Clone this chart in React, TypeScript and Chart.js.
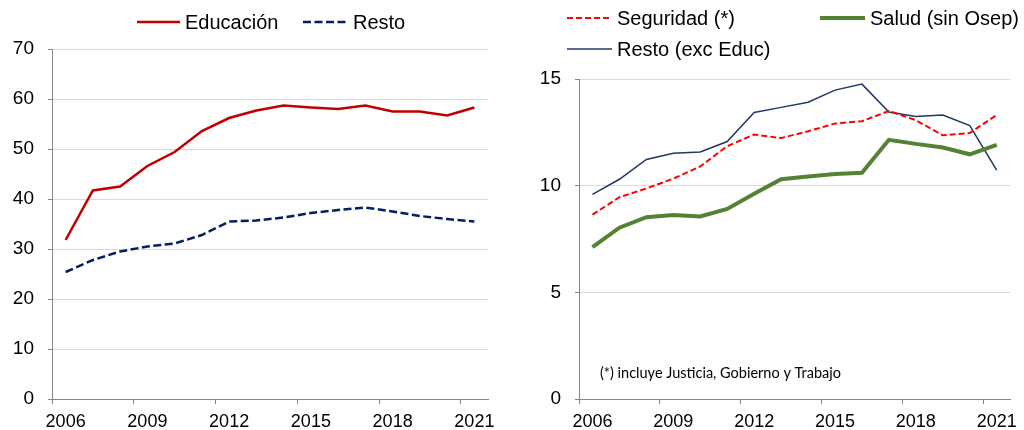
import React, { useEffect, useRef } from "react";
import { Chart, registerables } from "chart.js";

Chart.register(...registerables);

const years = ["2006","2007","2008","2009","2010","2011","2012","2013","2014","2015","2016","2017","2018","2019","2020","2021"];

// Left chart
const educacion = [31.8, 41.7, 42.5, 46.6, 49.4, 53.6, 56.2, 57.7, 58.7, 58.3, 58.0, 58.7, 57.5, 57.5, 56.7, 58.3];
const restoLeft = [25.4, 27.8, 29.5, 30.5, 31.1, 32.8, 35.5, 35.7, 36.3, 37.2, 37.8, 38.3, 37.5, 36.6, 36.0, 35.5];

// Right chart
const seguridad = [8.64, 9.46, 9.87, 10.33, 10.9, 11.85, 12.4, 12.23, 12.55, 12.91, 13.02, 13.5, 13.07, 12.36, 12.47, 13.31];
const salud = [7.12, 8.03, 8.52, 8.63, 8.56, 8.91, 9.62, 10.3, 10.43, 10.55, 10.6, 12.15, 11.96, 11.79, 11.47, 11.91];
const restoExcEduc = [9.59, 10.3, 11.23, 11.52, 11.58, 12.07, 13.43, 13.67, 13.91, 14.48, 14.76, 13.45, 13.24, 13.31, 12.82, 10.73];

const leftTicks = [0, 10, 20, 30, 40, 50, 60, 70];
const rightTicks = [0, 5, 10, 15];
const footnote = "(*) incluye Justicia, Gobierno y Trabajo";

const FONT = "'Liberation Sans', Arial, sans-serif";
const AXIS = "#868686";
const GRID = "#d9d9d9";

type LegendPos = { x1: number; x2: number; y: number };

const customLegend = {
  id: "customLegend",
  afterDraw(chart: any, _args: any, opts: any) {
    const positions: LegendPos[] = opts.positions || [];
    const ctx = chart.ctx;
    ctx.save();
    chart.data.datasets.forEach((ds: any, i: number) => {
      const p = positions[i];
      if (!p) return;
      ctx.beginPath();
      ctx.strokeStyle = ds.borderColor;
      ctx.lineWidth = ds.borderWidth;
      ctx.setLineDash(ds.borderDash || []);
      ctx.moveTo(p.x1, p.y);
      ctx.lineTo(p.x2, p.y);
      ctx.stroke();
      ctx.setLineDash([]);
      ctx.fillStyle = "#000";
      ctx.font = `20px ${FONT}`;
      ctx.textBaseline = "middle";
      ctx.textAlign = "left";
      ctx.fillText(ds.label, p.x2 + 5, p.y + 1);
    });
    if (opts.note) {
      ctx.fillStyle = "#000";
      ctx.font = `14.5px Lato, 'Open Sans', sans-serif`;
      ctx.textBaseline = "middle";
      ctx.textAlign = "left";
      ctx.fillText(opts.note.text, opts.note.x, opts.note.y);
    }
    ctx.restore();
  },
};

function makeConfig(
  datasets: any[],
  yTicks: number[],
  yWidth: number,
  padTop: number,
  padRight: number,
  legendPositions: LegendPos[],
  note?: { text: string; x: number; y: number }
): any {
  const ymax = yTicks[yTicks.length - 1];
  const ystep = yTicks[1] - yTicks[0];
  return {
    type: "line",
    data: { labels: years, datasets },
    options: {
      animation: false,
      responsive: false,
      maintainAspectRatio: false,
      layout: { padding: { top: padTop, right: padRight, left: 0, bottom: 0 } },
      elements: { point: { radius: 0 }, line: { tension: 0 } },
      plugins: {
        legend: { display: false },
        tooltip: { enabled: false },
        customLegend: { positions: legendPositions, note },
      },
      scales: {
        x: {
          type: "category",
          offset: true,
          afterFit: (s: any) => { s.height = 31; },
          grid: {
            offset: true,
            drawOnChartArea: false,
            drawTicks: true,
            tickLength: 5,
            tickColor: (c: any) => (c.index % 3 === 0 ? AXIS : "rgba(0,0,0,0)"),
            color: AXIS,
          },
          border: { color: AXIS, width: 1 },
          ticks: {
            autoSkip: false,
            maxRotation: 0,
            padding: 7,
            color: "#000",
            font: { family: FONT, size: 18 },
            callback: (_v: any, i: number) => (i % 3 === 0 ? years[i] : ""),
          },
        },
        y: {
          min: 0,
          max: ymax,
          afterFit: (s: any) => { s.width = yWidth; },
          grid: { color: GRID, lineWidth: 1, tickLength: 4, tickColor: AXIS },
          border: { color: AXIS, width: 1 },
          ticks: {
            stepSize: ystep,
            padding: 14,
            color: "#000",
            font: { family: FONT, size: 19 },
          },
        },
      },
    },
    plugins: [customLegend],
  };
}

function ChartCanvas({ config, style }: { config: any; style: React.CSSProperties }) {
  const ref = useRef<HTMLCanvasElement | null>(null);
  useEffect(() => {
    if (!ref.current) return;
    const chart = new Chart(ref.current, config);
    return () => chart.destroy();
  }, [config]);
  return <canvas ref={ref} width={style.width as number} height={style.height as number} style={{ position: "absolute", ...style }} />;
}

const leftConfig = makeConfig(
  [
    { label: "Educación", data: educacion, borderColor: "#C00000", borderWidth: 2.5, fill: false },
    { label: "Resto", data: restoLeft, borderColor: "#002060", borderWidth: 2.5, borderDash: [8, 3.5], fill: false },
  ],
  leftTicks,
  52,
  49,
  17,
  [
    { x1: 137, x2: 180, y: 22 },
    { x1: 303, x2: 348, y: 22 },
  ]
);

const rightConfig = makeConfig(
  [
    { label: "Seguridad (*)", data: seguridad, borderColor: "#FF0000", borderWidth: 2, borderDash: [6, 3], fill: false },
    { label: "Salud (sin Osep)", data: salud, borderColor: "#548235", borderWidth: 4, fill: false },
    { label: "Resto (exc Educ)", data: restoExcEduc, borderColor: "#1F3864", borderWidth: 1.5, fill: false },
  ],
  rightTicks,
  67,
  79,
  9,
  [
    { x1: 55, x2: 100, y: 18 },
    { x1: 308, x2: 353, y: 18 },
    { x1: 55, x2: 100, y: 49 },
  ],
  { text: footnote, x: 88, y: 373 }
);

export default function App() {
  return (
    <div style={{ position: "fixed", left: 0, top: 0, width: 1024, height: 430, background: "#fff", overflow: "hidden" }}>
      <ChartCanvas config={leftConfig} style={{ left: 0, top: 0, width: 505, height: 430 }} />
      <ChartCanvas config={rightConfig} style={{ left: 512, top: 0, width: 512, height: 430 }} />
    </div>
  );
}
